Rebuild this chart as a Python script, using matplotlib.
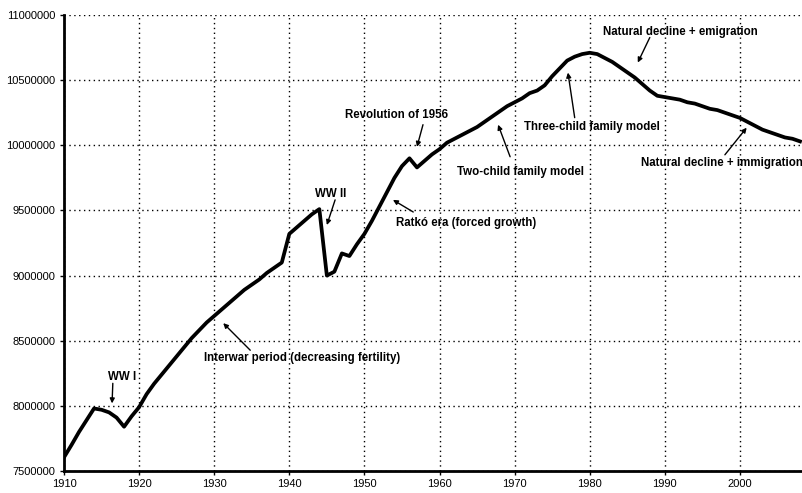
import matplotlib.pyplot as plt
from matplotlib.ticker import MultipleLocator, FuncFormatter

# population of Hungary
years = list(range(1910, 2009))
population = [
    7605000, 7700000, 7800000, 7890000, 7980000, 7970000, 7950000, 7910000, 7840000, 7920000,  # 1910s
    7990000, 8090000, 8170000, 8240000, 8310000, 8380000, 8450000, 8520000, 8580000, 8640000,  # 1920s
    8690000, 8740000, 8790000, 8840000, 8890000, 8930000, 8970000, 9020000, 9060000, 9100000,  # 1930s
    9320000, 9370000, 9420000, 9470000, 9510000, 9000000, 9030000, 9170000, 9150000, 9240000,  # 1940s
    9320000, 9420000, 9530000, 9640000, 9750000, 9840000, 9900000, 9830000, 9880000, 9930000,  # 1950s
    9970000, 10020000, 10050000, 10080000, 10110000, 10140000, 10180000, 10220000, 10260000, 10300000,  # 1960s
    10330000, 10360000, 10400000, 10420000, 10460000, 10530000, 10590000, 10650000, 10680000, 10700000,  # 1970s
    10710000, 10700000, 10670000, 10640000, 10600000, 10560000, 10520000, 10470000, 10420000, 10380000,  # 1980s
    10370000, 10360000, 10350000, 10330000, 10320000, 10300000, 10280000, 10270000, 10250000, 10230000,  # 1990s
    10210000, 10180000, 10150000, 10120000, 10100000, 10080000, 10060000, 10050000, 10030000,  # 2000s
]

# annotation labels with text centre, arrow start and arrow tip (year, population)
note_labels = [
    "WW I", "WW II", "Revolution of 1956", "Ratkó era (forced growth)",
    "Two-child family model", "Three-child family model",
    "Natural decline + emigration", "Natural decline + immigration",
    "Interwar period (decreasing fertility)",
]
note_text_pos = [
    (1917.7, 8219000), (1945.5, 9627000), (1954.3, 10234000), (1963.5, 9404000),
    (1970.8, 9796000), (1980.3, 10142000), (1992.1, 10873000), (1997.6, 9865000),
    (1941.7, 8365000),
]
arrow_start = [
    (1916.5, 8173000), (1946.1, 9581000), (1957.8, 10158000), (1956.5, 9488000),
    (1969.4, 9912000), (1978.0, 10212000), (1988.0, 10827000), (1998.0, 9927000),
    (1934.8, 8427000),
]
arrow_tip = [
    (1916.4, 8019000), (1945.0, 9388000), (1957.0, 9988000), (1953.8, 9581000),
    (1967.8, 10158000), (1977.1, 10558000), (1986.4, 10635000), (2000.9, 10135000),
    (1931.2, 8635000),
]

fig = plt.figure(figsize=(8.03, 4.93), dpi=100)
ax = fig.add_axes([0.0797, 0.0446, 0.9203, 0.925])

ax.plot(years, population, color='black', linewidth=2.7, solid_joinstyle='round')

ax.set_xlim(1910, 2008.4)
ax.set_ylim(7500000, 11000000)
ax.xaxis.set_major_locator(MultipleLocator(10))
ax.yaxis.set_major_locator(MultipleLocator(500000))
ax.yaxis.set_major_formatter(FuncFormatter(lambda v, p: f'{int(v)}'))

ax.grid(True, color='black', linestyle=(0, (1, 2.5)), linewidth=1.0)
for side in ['top', 'right']:
    ax.spines[side].set_visible(False)
for side in ['left', 'bottom']:
    ax.spines[side].set_linewidth(2)
ax.tick_params(axis='both', labelsize=8, length=3, width=1, direction='out', pad=3)
for lab in ax.get_xticklabels() + ax.get_yticklabels():
    lab.set_family('Liberation Sans')

for label, pos, start, tip in zip(note_labels, note_text_pos, arrow_start, arrow_tip):
    ax.text(pos[0], pos[1], label, fontsize=8.3, fontweight='bold',
            family='Liberation Sans', ha='center', va='center')
    ax.annotate('', xy=tip, xytext=start,
                arrowprops=dict(arrowstyle='-|>', color='black', linewidth=1,
                                mutation_scale=7, shrinkA=0, shrinkB=0))

fig.savefig('out.png', dpi=100)
